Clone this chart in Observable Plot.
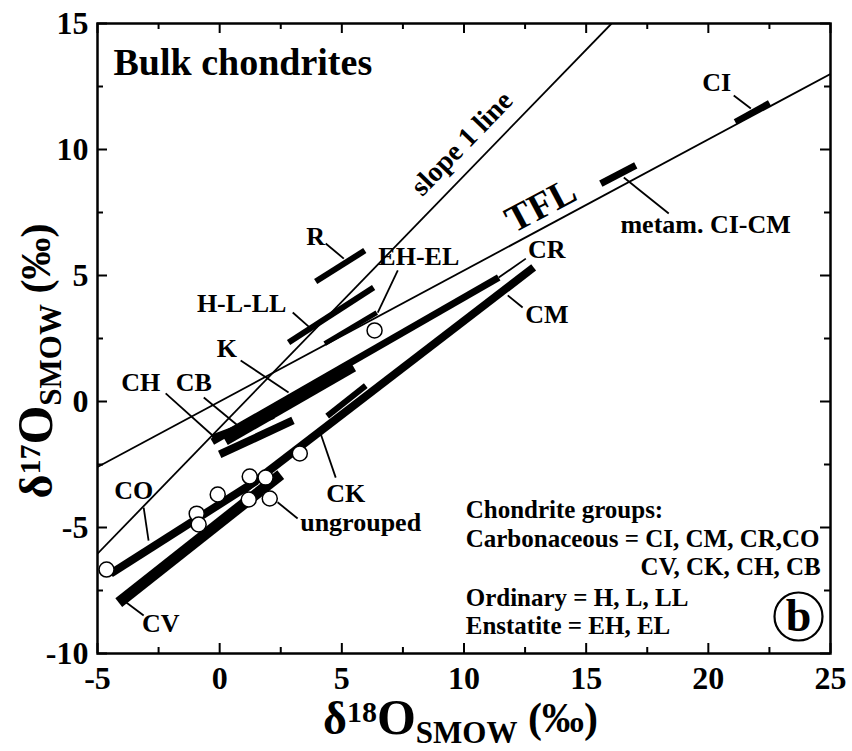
<!DOCTYPE html>
<html>
<head>
<meta charset="utf-8">
<script src="https://cdn.jsdelivr.net/npm/d3@7"></script>
<script src="https://cdn.jsdelivr.net/npm/@observablehq/plot@0.6"></script>
<style>
  body { margin: 0; background: white; }
  #chart { width: 852px; height: 751px; }
</style>
</head>
<body>
<div id="chart"></div>
<script>
// ---- data ----
const xMajor = [-5, 0, 5, 10, 15, 20, 25];
const xMinor = [-2.5, 2.5, 7.5, 12.5, 17.5, 22.5];
const yMajor = [-10, -5, 0, 5, 10, 15];
const yMinor = [-7.5, -2.5, 2.5, 7.5, 12.5];

// reference lines: terrestrial fractionation line and slope-1 line
const refNames = ["TFL", "slope 1 line"];
const refX1 = [-5, -5];
const refY1 = [-2.6, -6.04];
const refX2 = [25, 16.04];
const refY2 = [13.0, 15];

// bulk chondrite group ranges (bars)
const barGroups = ["CI", "metam. CI-CM", "R", "H-L-LL", "EH-EL", "CR", "K", "CH", "CB", "CO", "CV", "CM", "CK"];
const barX1 = [21.1, 15.6, 3.93, 2.82, 4.30, -0.3, 0.2, -0.3, 0.0, -4.46, -4.13, 1.0, 4.4];
const barY1 = [11.1, 8.65, 4.76, 2.34, 2.30, -1.6, -1.5, -1.45, -2.1, -6.83, -7.98, -3.5, -0.58];
const barX2 = [22.5, 17.03, 5.94, 6.30, 6.43, 11.42, 5.45, 2.2, 3.0, 1.5, 2.5, 12.85, 5.98];
const barY2 = [11.85, 9.37, 5.99, 4.52, 3.53, 4.92, 1.42, -0.55, -0.75, -3.15, -2.9, 5.32, 0.63];
const barWidth = [6, 7, 6, 6, 5, 7, 13, 7, 8, 8, 11, 8, 6];

// ungrouped chondrites (open circles)
const ungroupedX = [6.34, -4.63, -0.94, -0.86, -0.08, 1.23, 1.88, 1.19, 2.05, 3.28];
const ungroupedY = [2.82, -6.67, -4.45, -4.88, -3.69, -2.98, -3.02, -3.89, -3.85, -2.06];

// group labels and their leader lines
const labelText = ["R", "EH-EL", "H-L-LL", "K", "CH", "CB", "CO", "CV", "CK", "ungrouped", "CR", "CM", "CI", "metam. CI-CM"];
const labelX = [3.93, 8.15, 0.9, 0.29, -3.23, -1.06, -3.52, -2.41, 5.16, 5.77, 13.39, 13.39, 20.34, 19.89];
const labelY = [6.55, 5.75, 3.89, 2.1, 0.75, 0.75, -3.53, -8.81, -3.65, -4.79, 6.03, 3.45, 12.66, 7.0];
const leadX1 = [4.34, 7.29, 2.99, 0.86, -2.21, -0.65, -3.11, -3.93, 4.75, 2.37, 12.53, 12.4, 21.04, 18.38];
const leadY1 = [6.27, 5.2, 3.53, 1.63, 0.32, 0.16, -4.21, -7.9, -3.02, -4.0, 5.67, 3.73, 12.14, 7.46];
const leadX2 = [5.08, 6.47, 3.68, 2.82, -0.29, 0.74, -2.91, -3.11, 4.13, 3.19, 11.42, 11.79, 21.74, 16.54];
const leadY2 = [5.67, 3.53, 2.94, 0.36, -1.35, -0.95, -5.52, -8.49, -1.27, -4.64, 4.92, 4.21, 11.63, 8.89];

// line labels (rotated)
const lineLabelText = ["TFL", "slope 1 line"];
const lineLabelX = [13.14, 9.91];
const lineLabelY = [7.78, 10.24];

// legend text
const legendLines = ["Chondrite groups:", "Carbonaceous = CI, CM, CR,CO", "CV, CK, CH, CB", "Ordinary = H, L, LL", "Enstatite = EH, EL"];
const legendX = [10.07, 10.07, 24.6, 10.07, 10.07];
const legendY = [-4.64, -5.79, -6.90, -8.10, -9.21];
const legendAlign = ["start", "start", "end", "start", "start"];

// ---- tables built from the arrays ----
const refLines = refNames.map((n, i) => ({n, x1: refX1[i], y1: refY1[i], x2: refX2[i], y2: refY2[i]}));
const bars = barGroups.map((g, i) => ({g, x1: barX1[i], y1: barY1[i], x2: barX2[i], y2: barY2[i], w: barWidth[i]}));
const ungrouped = ungroupedX.map((x, i) => ({x, y: ungroupedY[i]}));
const labels = labelText.map((t, i) => ({t, x: labelX[i], y: labelY[i]}));
const leaders = labelText.map((t, i) => ({t, x1: leadX1[i], y1: leadY1[i], x2: leadX2[i], y2: leadY2[i]}));
const lineLabels = lineLabelText.map((t, i) => ({t, x: lineLabelX[i], y: lineLabelY[i]}));
const legend = legendLines.map((t, i) => ({t, x: legendX[i], y: legendY[i], a: legendAlign[i]}));

const FONT = "'Liberation Serif', 'Times New Roman', serif";
const W = 852, H = 751, ML = 97, MR = 22, MT = 23, MB = 98;
const FW = W - ML - MR, FH = H - MT - MB;

const plot = Plot.plot({
  width: W, height: H,
  marginLeft: ML, marginRight: MR, marginTop: MT, marginBottom: MB,
  x: {domain: [-5, 25]},
  y: {domain: [-10, 15]},
  style: {fontFamily: FONT, fontWeight: "bold", background: "white", color: "black"},
  marks: [
    Plot.axisX({ticks: xMajor, tickSize: 0, tickPadding: 13, fontSize: 32, tickFormat: d => String(d), label: null}),
    Plot.axisY({ticks: yMajor, tickSize: 0, tickPadding: 9, fontSize: 32, tickFormat: d => String(d), label: null}),
    // inward ticks on all sides
    Plot.tickX(xMajor, {x: d => d, insetTop: FH - 10, stroke: "black", strokeWidth: 2}),
    Plot.tickX(xMinor, {x: d => d, insetTop: FH - 6, stroke: "black", strokeWidth: 2}),
    Plot.tickX(xMajor, {x: d => d, insetBottom: FH - 10, stroke: "black", strokeWidth: 2}),
    Plot.tickX(xMinor, {x: d => d, insetBottom: FH - 6, stroke: "black", strokeWidth: 2}),
    Plot.tickY(yMajor, {y: d => d, insetRight: FW - 10, stroke: "black", strokeWidth: 2}),
    Plot.tickY(yMinor, {y: d => d, insetRight: FW - 6, stroke: "black", strokeWidth: 2}),
    Plot.tickY(yMajor, {y: d => d, insetLeft: FW - 10, stroke: "black", strokeWidth: 2}),
    Plot.tickY(yMinor, {y: d => d, insetLeft: FW - 6, stroke: "black", strokeWidth: 2}),
    // reference lines
    Plot.link(refLines, {x1: "x1", y1: "y1", x2: "x2", y2: "y2", stroke: "black", strokeWidth: 1.8, clip: true}),
    // group bars
    Plot.link(bars, {x1: "x1", y1: "y1", x2: "x2", y2: "y2", stroke: "black", strokeWidth: "w", strokeLinecap: "butt"}),
    // leader lines
    Plot.link(leaders, {x1: "x1", y1: "y1", x2: "x2", y2: "y2", stroke: "black", strokeWidth: 1.8}),
    // ungrouped
    Plot.dot(ungrouped, {x: "x", y: "y", r: 7.5, fill: "white", stroke: "black", strokeWidth: 1.5}),
    // labels
    Plot.text(labels, {x: "x", y: "y", text: "t", fontSize: 26, fontWeight: "bold", fill: "black"}),
    Plot.text(lineLabels.slice(0, 1), {x: "x", y: "y", text: "t", fontSize: 38, fontWeight: "bold", rotate: -28, fill: "black"}),
    Plot.text(lineLabels.slice(1), {x: "x", y: "y", text: "t", fontSize: 28, fontWeight: "bold", rotate: -46, fill: "black"}),
    Plot.text(legend.filter(d => d.a === "start"), {x: "x", y: "y", text: "t", textAnchor: "start", lineAnchor: "bottom", fontSize: 25, fontWeight: "bold", fill: "black"}),
    Plot.text(legend.filter(d => d.a === "end"), {x: "x", y: "y", text: "t", textAnchor: "end", lineAnchor: "bottom", fontSize: 25, fontWeight: "bold", fill: "black"}),
    // panel title and tag
    Plot.text(["Bulk chondrites"], {frameAnchor: "top-left", dx: 16, dy: 25, textAnchor: "start", fontSize: 38, fontWeight: "bold", fill: "black"}),
    Plot.dot([null], {frameAnchor: "bottom-right", dx: -32, dy: -37, r: 24, fill: "none", stroke: "black", strokeWidth: 2.2}),
    Plot.text(["b"], {frameAnchor: "bottom-right", dx: -32, dy: -37, textAnchor: "middle", lineAnchor: "middle", fontSize: 46, fontWeight: "bold", fill: "black"}),
    Plot.frame({stroke: "black", strokeWidth: 2.5})
  ]
});

// axis titles with sub/superscripts
const svg = d3.select(plot);
function title(sel, sup) {
  sel.attr("font-family", FONT).attr("font-weight", "bold").attr("fill", "black").attr("text-anchor", "start");
  sel.append("tspan").style("font-size", "46px").text("δ");
  sel.append("tspan").style("font-size", "30px").attr("dy", -12).text(sup);
  sel.append("tspan").style("font-size", "50px").attr("dy", 12).text("O");
  sel.append("tspan").style("font-size", "31px").attr("dy", 9).text("SMOW");
  sel.append("tspan").style("font-size", "42px").attr("dy", -11).text(" (‰)");
}
title(svg.append("text").attr("x", 323).attr("y", 734), "18");
const yt = svg.append("text").attr("transform", "translate(52,361) rotate(-90)");
title(yt, "17");
yt.attr("text-anchor", "middle");

document.getElementById("chart").appendChild(plot);
</script>
</body>
</html>
